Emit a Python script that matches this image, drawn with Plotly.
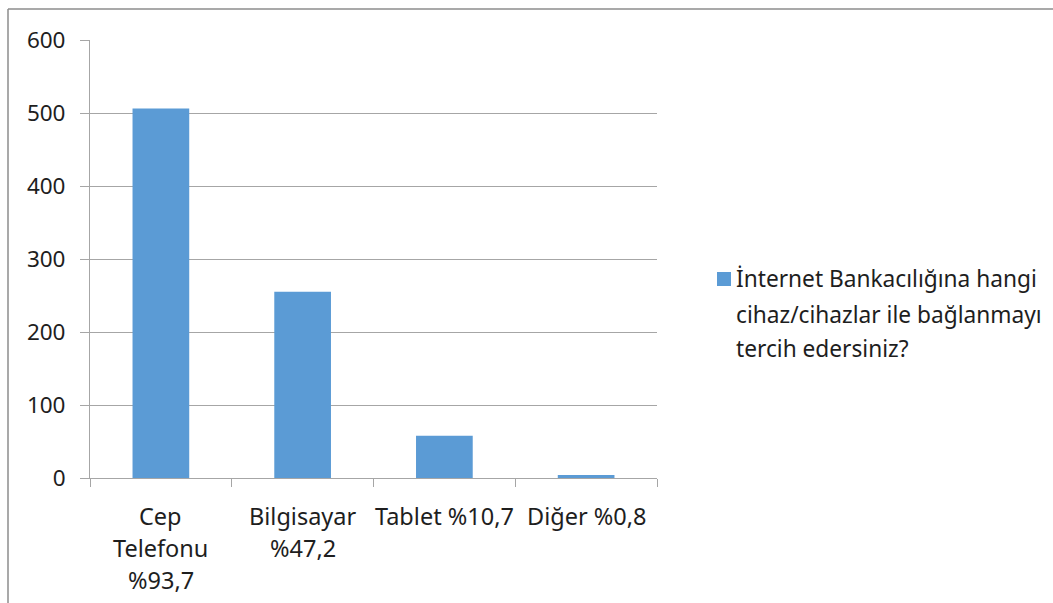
import plotly.graph_objects as go

categories = ["Cep Telefonu %93,7", "Bilgisayar %47,2", "Tablet %10,7", "Diğer %0,8"]
tick_lines = [["Cep", "Telefonu", "%93,7"], ["Bilgisayar", "%47,2"], ["Tablet %10,7"], ["Diğer %0,8"]]
values = [506, 255, 58, 4]
series_name_lines = ["İnternet Bankacılığına hangi", "cihaz/cihazlar ile bağlanmayı", "tercih edersiniz?"]
y_ticks = [0, 100, 200, 300, 400, 500, 600]

W, H = 1053, 603
L, R, T, B = 90, 657, 40, 478  # plot area in pixels
pw, ph = R - L, B - T

def px(x):
    return (x - L) / pw

def py(y):
    return (B - y) / ph

FONT = "Noto Sans, Open Sans, sans-serif"
TXT = "#1e1e1e"
GRID = "#a6a6a6"
BLUE = "#5B9BD5"

fig = go.Figure()
fig.add_trace(go.Bar(x=list(range(len(categories))), y=values, marker=dict(color=BLUE, line=dict(width=0)),
                     name=" ".join(series_name_lines), showlegend=False))

annotations = []
line_y = [516, 548, 580]
for i, lines in enumerate(tick_lines):
    for j, t in enumerate(lines):
        annotations.append(dict(x=i, xref="x", y=py(line_y[j]), yref="paper", text=t, showarrow=False,
                                xanchor="center", yanchor="middle", font=dict(family=FONT, size=23.5, color=TXT)))

leg_y = [278, 314, 349]
for j, t in enumerate(series_name_lines):
    annotations.append(dict(x=px(734), xref="paper", y=py(leg_y[j]), yref="paper", text=t, showarrow=False,
                            xanchor="left", yanchor="middle", font=dict(family=FONT, size=22.7, color=TXT)))

shapes = [
    dict(type="rect", xref="paper", yref="paper", x0=px(717), x1=px(731), y0=py(286), y1=py(272),
         fillcolor=BLUE, line=dict(width=0)),
    dict(type="line", xref="paper", yref="paper", x0=px(8), x1=px(1060), y0=py(9), y1=py(9),
         line=dict(color="#8c8c8c", width=1.5)),
    dict(type="line", xref="paper", yref="paper", x0=px(8), x1=px(8), y0=py(9), y1=py(610),
         line=dict(color="#8c8c8c", width=1.5)),
]

fig.update_layout(
    width=W, height=H,
    margin=dict(l=L, r=W - R, t=T, b=H - B, pad=0),
    paper_bgcolor="white", plot_bgcolor="white",
    bargap=0.6,
    font=dict(family=FONT, size=23, color=TXT),
    xaxis=dict(type="linear", range=[-0.5, 3.5], showgrid=False, showline=True, linecolor=GRID, linewidth=1,
               ticks="outside", ticklen=8, tickcolor=GRID, tickvals=[-0.5, 0.5, 1.5, 2.5, 3.5],
               showticklabels=False, zeroline=False),
    yaxis=dict(range=[0, 600], tickvals=y_ticks, showgrid=True, gridcolor=GRID, gridwidth=1,
               showline=True, linecolor=GRID, linewidth=1, ticks="outside", ticklen=9, tickcolor=GRID,
               zeroline=False, tickfont=dict(family=FONT, size=22.5, color=TXT), ticklabelstandoff=10),
    annotations=annotations, shapes=shapes, showlegend=False,
)

fig.write_html("out.html")
